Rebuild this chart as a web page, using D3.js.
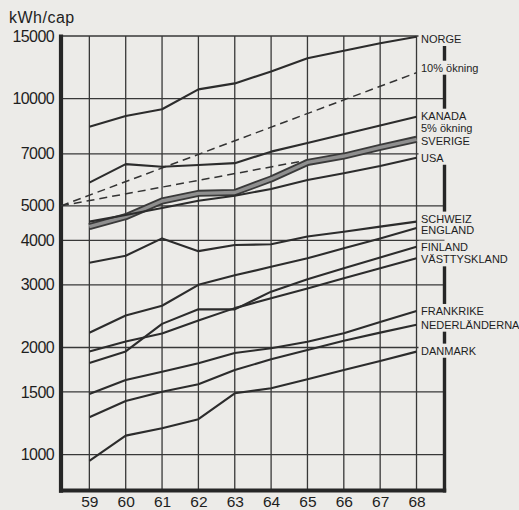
<!DOCTYPE html>
<html><head><meta charset="utf-8">
<script src="https://cdn.jsdelivr.net/npm/d3@7"></script>
<style>
html,body{margin:0;padding:0;background:#ecebe8;}
svg{display:block;}
</style></head><body>
<svg id="chart" width="519" height="510"></svg>
<script>
// ---------- data ----------
const years = [59, 60, 61, 62, 63, 64, 65, 66, 67, 68];
const xTickLabels = ["59", "60", "61", "62", "63", "64", "65", "66", "67", "68"];
const yTickValues = [1000, 1500, 2000, 3000, 4000, 5000, 7000, 10000, 15000];
const yUnit = "kWh/cap";

const norge         = [8340, 8940, 9340, 10620, 11040, 11920, 12990, 13640, 14310, 14930];
const kanada        = [5810, 6550, 6440, 6510, 6590, 7100, 7510, 7950, 8410, 8900];
const sverige       = [4370, 4660, 5160, 5420, 5450, 5950, 6620, 6900, 7300, 7690];
const usa           = [4515, 4710, 4930, 5170, 5340, 5575, 5910, 6170, 6470, 6825];
const schweiz       = [3460, 3620, 4050, 3730, 3880, 3900, 4100, 4230, 4370, 4515];
const england       = [2200, 2460, 2620, 3000, 3190, 3370, 3560, 3800, 4050, 4330];
const finland       = [1810, 1950, 2330, 2560, 2560, 2870, 3110, 3340, 3580, 3840];
const vasttyskland  = [1950, 2080, 2190, 2380, 2580, 2750, 2930, 3130, 3340, 3560];
const frankrike     = [1480, 1620, 1710, 1806, 1930, 1990, 2076, 2193, 2360, 2533];
const nederlanderna = [1274, 1415, 1503, 1577, 1729, 1853, 1968, 2090, 2202, 2318];
const danmark       = [960, 1131, 1186, 1258, 1487, 1536, 1628, 1729, 1833, 1947];

// reference growth lines (start at the left axis at 5000)
const growth10Years = [58.22, 68];
const growth10      = [5000, 11830];
const growth5Years  = [58.22, 65];
const growth5       = [5000, 6720];

const seriesNames = ["NORGE", "KANADA", "SVERIGE", "USA", "SCHWEIZ", "ENGLAND", "FINLAND",
  "VÄSTTYSKLAND", "FRANKRIKE", "NEDERLÄNDERNA", "DANMARK"];
const seriesValues = [norge, kanada, sverige, usa, schweiz, england, finland,
  vasttyskland, frankrike, nederlanderna, danmark];

// ---------- layout ----------
const BG = "#ecebe8", INK = "#2c2c2c";
const svg = d3.select("#chart");
const x = d3.scaleLinear().domain([58.22, 68.77]).range([61, 444.5]);
const y = d3.scaleLog().domain([793, 15000]).range([490.5, 36]);
const [x0, x1] = x.range();
const [yBot, yTop] = y.range();

svg.append("rect").attr("width", 519).attr("height", 510).attr("fill", BG);

// grid
const grid = svg.append("g").attr("stroke", "#383838").attr("stroke-width", 1.3);
grid.selectAll("line.h").data(yTickValues).join("line").attr("class", "h")
  .attr("x1", x0).attr("x2", x1).attr("y1", d => y(d)).attr("y2", d => y(d));
grid.selectAll("line.v").data(years).join("line").attr("class", "v")
  .attr("x1", d => x(d)).attr("x2", d => x(d)).attr("y1", yTop).attr("y2", yBot);

// labels on the right (layout nudges)
const labelNudge = {"NORGE": 2, "10% ökning": -5, "KANADA": -1, "SVERIGE": 2, "USA": 0,
  "SCHWEIZ": -3, "ENGLAND": 2, "FINLAND": 0, "VÄSTTYSKLAND": 1, "FRANKRIKE": 0,
  "NEDERLÄNDERNA": 0, "DANMARK": -1};
const labels = [];
seriesNames.forEach((n, i) => labels.push({text: n, cy: y(seriesValues[i][seriesValues[i].length - 1]) + labelNudge[n]}));
labels.push({text: "10% ökning", cy: y(growth10[growth10.length - 1]) + labelNudge["10% ökning"]});
labels.push({text: "5% ökning", cy: y(sverige[sverige.length - 1]) + 2 - 13});
labels.sort((a, b) => a.cy - b.cy);

const labG = svg.append("g");
const labX = x(68) + 4.5;
labels.forEach(l => {
  const r = labG.append("rect").attr("fill", BG);
  const t = labG.append("text").attr("x", labX).attr("y", l.cy).attr("dy", "0.36em")
    .attr("font-family", "Liberation Sans, Arial, sans-serif").attr("font-size", 11)
    .attr("fill", "#1e1e1e").text(l.text);
  const w = t.node().getComputedTextLength();
  r.attr("x", labX - 2.5).attr("y", l.cy - 6).attr("width", w + 4).attr("height", 12);
  l.w = w;
});

// frame
svg.append("line").attr("x1", x0).attr("x2", x0).attr("y1", yTop - 1.5).attr("y2", yBot + 2.2)
  .attr("stroke", "#262626").attr("stroke-width", 4.2);
svg.append("line").attr("x1", x0 - 2).attr("x2", x1 + 1.7).attr("y1", yBot).attr("y2", yBot)
  .attr("stroke", "#262626").attr("stroke-width", 4.2);
// right border broken where labels are
const blocked = labels.map(l => [l.cy - 7, l.cy + 7]).sort((a, b) => a[0] - b[0]);
const merged = [];
blocked.forEach(b => {
  const last = merged[merged.length - 1];
  if (last && b[0] - last[1] < 6) last[1] = Math.max(last[1], b[1]);
  else merged.push([b[0], b[1]]);
});
let cur = yTop + 10;
const segs = [];
merged.forEach(m => { if (m[0] > cur) segs.push([cur, m[0]]); cur = Math.max(cur, m[1]); });
segs.push([cur, yBot + 2]);
svg.append("g").selectAll("line").data(segs).join("line")
  .attr("x1", x1).attr("x2", x1).attr("y1", d => d[0]).attr("y2", d => d[1])
  .attr("stroke", "#262626").attr("stroke-width", 3.4);

// data lines
const line = d3.line().x(d => x(d[0])).y(d => y(d[1]));
const dash = svg.append("g").attr("fill", "none").attr("stroke", "#333").attr("stroke-width", 1.5)
  .attr("stroke-dasharray", "8,5");
dash.append("path").attr("d", line(growth10Years.map((yr, i) => [yr, growth10[i]])));
dash.append("path").attr("d", line(growth5Years.map((yr, i) => [yr, growth5[i]])));

const lg = svg.append("g").attr("fill", "none").attr("stroke-linejoin", "round");
seriesNames.forEach((n, i) => {
  const pts = years.map((yr, j) => [yr, seriesValues[i][j]]);
  if (n === "SVERIGE") {
    lg.append("path").attr("d", line(pts)).attr("stroke", "#3a3a3a").attr("stroke-width", 7);
    lg.append("path").attr("d", line(pts)).attr("stroke", "#8f8f8f").attr("stroke-width", 3.4);
  } else {
    lg.append("path").attr("d", line(pts)).attr("stroke", INK).attr("stroke-width", 2.1);
  }
});

// axes labels
const yAxis = svg.append("g").attr("transform", `translate(${x0 - 7},0)`)
  .call(d3.axisLeft(y).tickValues(yTickValues).tickFormat(d => String(d)).tickSize(0).tickPadding(0));
yAxis.select(".domain").remove();
yAxis.selectAll("text").attr("font-family", "Liberation Sans, Arial, sans-serif")
  .attr("font-size", 16).attr("letter-spacing", "-0.6px").attr("fill", "#1e1e1e");

const xAxis = svg.append("g").attr("transform", `translate(0,${yBot})`)
  .call(d3.axisBottom(x).tickValues(years).tickFormat((d, i) => xTickLabels[i]).tickSize(0).tickPadding(5.5));
xAxis.select(".domain").remove();
xAxis.selectAll("text").attr("font-family", "Liberation Sans, Arial, sans-serif")
  .attr("font-size", 15.5).attr("fill", "#1e1e1e");

svg.append("text").attr("x", 9).attr("y", 23).attr("font-family", "Liberation Sans, Arial, sans-serif")
  .attr("font-size", 16).attr("letter-spacing", "0.5px").attr("fill", "#1e1e1e").text(yUnit);
</script>
</body></html>
